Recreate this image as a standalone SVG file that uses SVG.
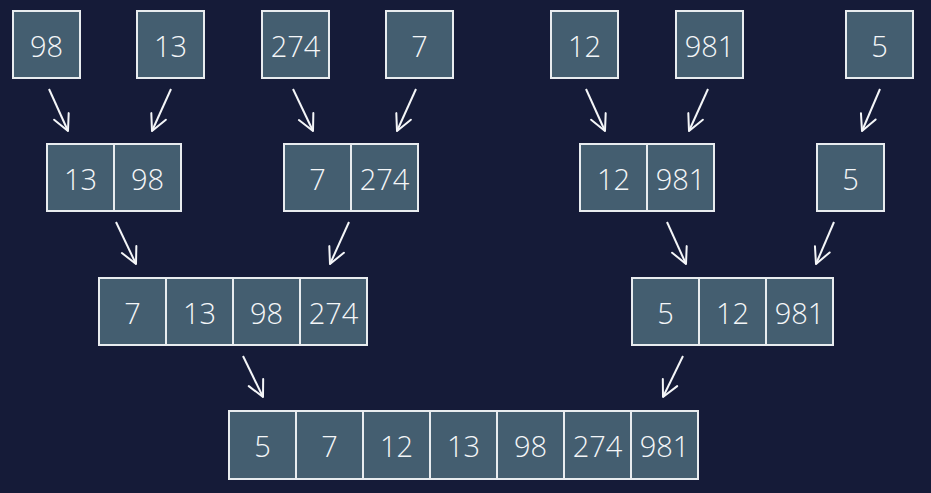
<svg xmlns="http://www.w3.org/2000/svg" width="931" height="493" viewBox="0 0 931 493">
<style>
.c{fill:#445e70;stroke:#e8ecef;stroke-width:2}
.t{fill:#f4f6f8;font-family:"Open Sans","Noto Sans",sans-serif;font-size:29px;font-weight:300;text-anchor:middle}
.a{stroke:#f4f6f8;stroke-width:2;fill:none;marker-end:url(#h)}
</style>
<defs>
<marker id="h" markerUnits="userSpaceOnUse" markerWidth="24" markerHeight="24" refX="0" refY="0" viewBox="-20 -12 24 24" orient="auto">
<path d="M-16,-8 L0,0 L-16,8" fill="none" stroke="#f4f6f8" stroke-width="2" stroke-linecap="round" stroke-linejoin="round"/>
</marker>
</defs>
<rect width="931" height="493" fill="#151b38"/>
<g id="r1n1"><rect class="c" x="13" y="11" width="67" height="67"/><text class="t" x="46.5" y="56.5">98</text></g>
<g id="r1n2"><rect class="c" x="137" y="11" width="67" height="67"/><text class="t" x="170.5" y="56.5">13</text></g>
<g id="r1n3"><rect class="c" x="262" y="11" width="67" height="67"/><text class="t" x="295.5" y="56.5">274</text></g>
<g id="r1n4"><rect class="c" x="386" y="11" width="67" height="67"/><text class="t" x="419.5" y="56.5">7</text></g>
<g id="r1n5"><rect class="c" x="551" y="11" width="67" height="67"/><text class="t" x="584.5" y="56.5">12</text></g>
<g id="r1n6"><rect class="c" x="676" y="11" width="67" height="67"/><text class="t" x="709.5" y="56.5">981</text></g>
<g id="r1n7"><rect class="c" x="846" y="11" width="67" height="67"/><text class="t" x="879.5" y="56.5">5</text></g>

<g id="r2n1"><rect class="c" x="47" y="144" width="67" height="67"/><rect class="c" x="114" y="144" width="67" height="67"/><text class="t" x="80.5" y="189.5">13</text><text class="t" x="147.5" y="189.5">98</text></g>
<g id="r2n2"><rect class="c" x="284" y="144" width="67" height="67"/><rect class="c" x="351" y="144" width="67" height="67"/><text class="t" x="317.5" y="189.5">7</text><text class="t" x="384.5" y="189.5">274</text></g>
<g id="r2n3"><rect class="c" x="580" y="144" width="67" height="67"/><rect class="c" x="647" y="144" width="67" height="67"/><text class="t" x="613.5" y="189.5">12</text><text class="t" x="680.5" y="189.5">981</text></g>
<g id="r2n4"><rect class="c" x="817" y="144" width="67" height="67"/><text class="t" x="850.5" y="189.5">5</text></g>

<g id="r3n1"><rect class="c" x="99" y="278" width="67" height="67"/><rect class="c" x="166" y="278" width="67" height="67"/><rect class="c" x="233" y="278" width="67" height="67"/><rect class="c" x="300" y="278" width="67" height="67"/><text class="t" x="132.5" y="323.5">7</text><text class="t" x="199.5" y="323.5">13</text><text class="t" x="266.5" y="323.5">98</text><text class="t" x="333.5" y="323.5">274</text></g>
<g id="r3n2"><rect class="c" x="632" y="278" width="67" height="67"/><rect class="c" x="699" y="278" width="67" height="67"/><rect class="c" x="766" y="278" width="67" height="67"/><text class="t" x="665.5" y="323.5">5</text><text class="t" x="732.5" y="323.5">12</text><text class="t" x="799.5" y="323.5">981</text></g>

<g id="r4n1"><rect class="c" x="229" y="411" width="67" height="68"/><rect class="c" x="296" y="411" width="67" height="68"/><rect class="c" x="363" y="411" width="67" height="68"/><rect class="c" x="430" y="411" width="67" height="68"/><rect class="c" x="497" y="411" width="67" height="68"/><rect class="c" x="564" y="411" width="67" height="68"/><rect class="c" x="631" y="411" width="67" height="68"/><text class="t" x="262.5" y="457">5</text><text class="t" x="329.5" y="457">7</text><text class="t" x="396.5" y="457">12</text><text class="t" x="463.5" y="457">13</text><text class="t" x="530.5" y="457">98</text><text class="t" x="597.5" y="457">274</text><text class="t" x="664.5" y="457">981</text></g>

<g id="connectors">
<line class="a" x1="49" y1="89" x2="68" y2="131"/>
<line class="a" x1="171" y1="89" x2="152" y2="131"/>
<line class="a" x1="293" y1="89" x2="313" y2="131"/>
<line class="a" x1="416" y1="89" x2="397" y2="131"/>
<line class="a" x1="586" y1="89" x2="605" y2="131"/>
<line class="a" x1="708" y1="89" x2="689" y2="131"/>
<line class="a" x1="880" y1="89" x2="862" y2="131"/>
<line class="a" x1="116" y1="222" x2="136" y2="264"/>
<line class="a" x1="349" y1="222" x2="330" y2="264"/>
<line class="a" x1="667" y1="222" x2="686" y2="264"/>
<line class="a" x1="834" y1="222" x2="816" y2="264"/>
<line class="a" x1="243" y1="356" x2="263" y2="397"/>
<line class="a" x1="683" y1="356" x2="663" y2="397"/>
</g>
</svg>
